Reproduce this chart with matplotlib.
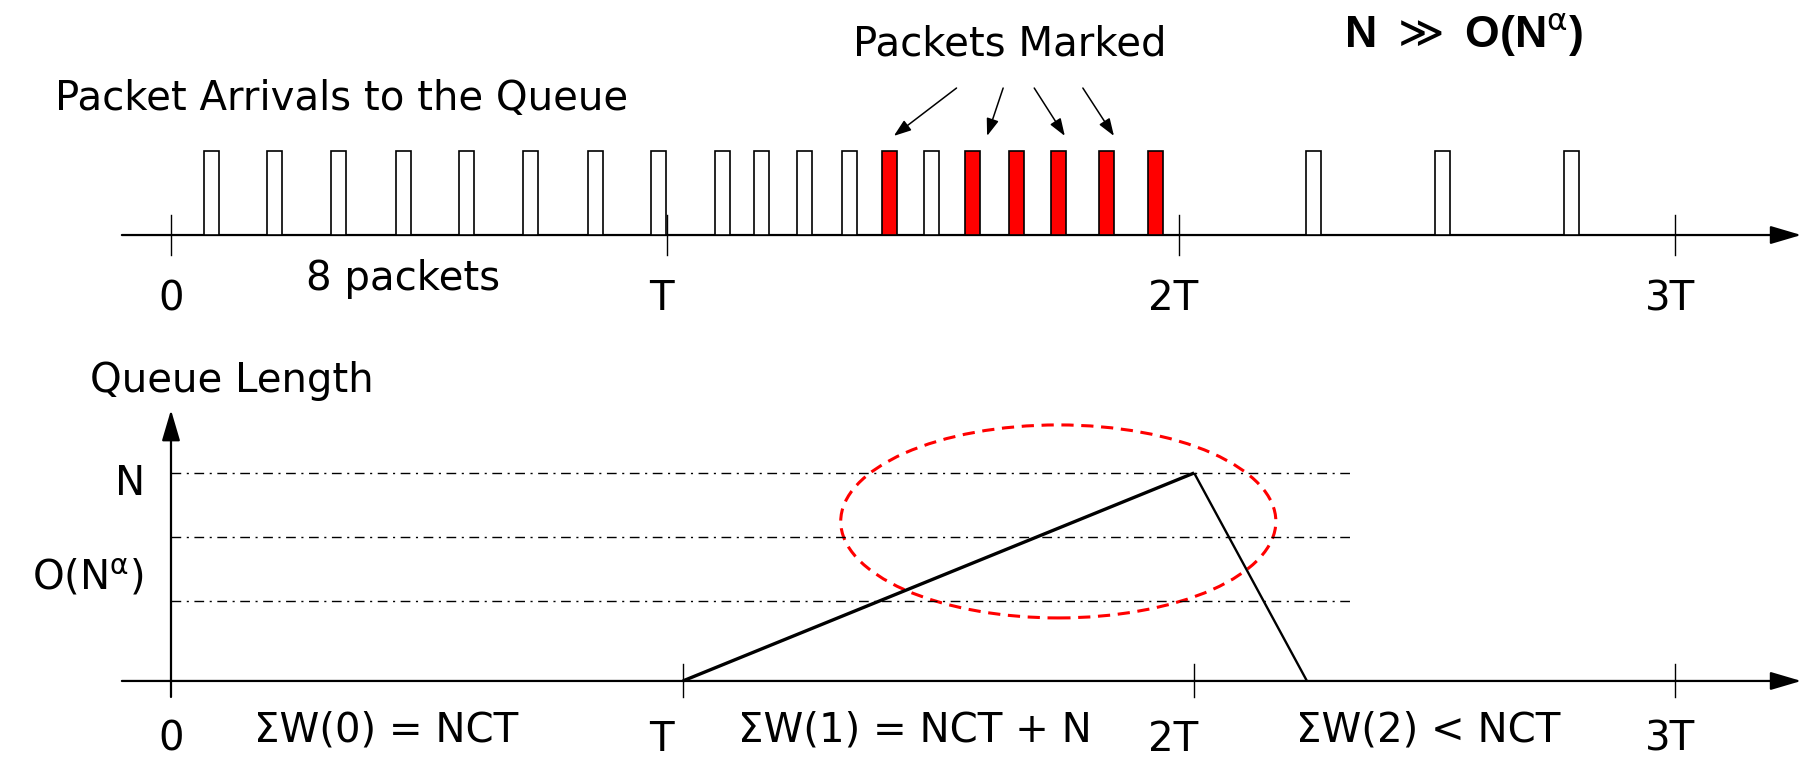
import matplotlib
matplotlib.use('Agg')
import matplotlib.pyplot as plt
from matplotlib.patches import Rectangle, Ellipse

plt.rcParams['font.family'] = ['DejaVu Sans']

# ---- data (x in units of T) ----
# top panel: packet arrival times, 1 = marked (red)
arrival_t = [0.080, 0.207, 0.335, 0.463, 0.590, 0.718, 0.846, 0.973,
             1.101, 1.177, 1.263, 1.354, 1.434, 1.518, 1.598, 1.686,
             1.771, 1.867, 1.963, 2.280, 2.537, 2.793]
marked = [0, 0, 0, 0, 0, 0, 0, 0,
          0, 0, 0, 0, 1, 0, 1, 1,
          1, 1, 1, 0, 0, 0]
arrow_tail_t = [1.567, 1.660, 1.722, 1.819]
arrow_tip_t = [1.442, 1.628, 1.783, 1.881]

tick_labels = ['0', 'T', '2T', '3T']
label_t = [0.0, 0.978, 2.0, 2.99]
top_ticks = [0.0, 0.989, 2.011, 3.0]
bottom_ticks = [0.0, 1.021, 2.041, 3.0]

# bottom panel: queue length (in units of N)
queue_t = [1.021, 2.041, 2.266]
queue_q = [0.0, 1.0, 0.0]
levels = [1.0, 0.692, 0.385]
level_end = 2.356
circle_center = (1.770, 0.767)
circle_size = (0.868, 0.928)

sum_labels = ['ΣW(0) = NCT', 'ΣW(1) = NCT + N', 'ΣW(2) < NCT']
sum_t = [0.430, 1.483, 2.507]

fig = plt.figure(figsize=(18.12, 7.6), dpi=100)
top = fig.add_axes([0, 0, 1, 1])
bot = fig.add_axes([0, 0, 1, 1])
for ax in (top, bot):
    ax.set_xlim(-0.3411, 3.2735)
    ax.axis('off')
    ax.patch.set_alpha(0)
top.set_ylim(-6.25, 2.798)
bot.set_ylim(-0.380, 3.274)

FS = 29
ax_arrow = dict(arrowstyle='-|>,head_length=0.95,head_width=0.28',
                mutation_scale=20, color='black', lw=1.6,
                shrinkA=0, shrinkB=0)

### top panel
top.annotate('', xy=(3.252, 0), xytext=(-0.098, 0), arrowprops=ax_arrow)
for t in top_ticks:
    top.plot([t, t], [-0.238, 0.238], color='black', lw=1.0)
for t, m in zip(arrival_t, marked):
    top.add_patch(Rectangle((t - 0.015, 0), 0.03, 1.0,
                            facecolor='red' if m else 'white',
                            edgecolor='black', lw=1.2, zorder=3))
for t0, t1 in zip(arrow_tail_t, arrow_tip_t):
    top.annotate('', xy=(t1, 1.18), xytext=(t0, 1.75),
                 arrowprops=dict(arrowstyle='-|>,head_length=0.7,head_width=0.25',
                                 mutation_scale=15, color='black', lw=1.1,
                                 shrinkA=0, shrinkB=0))
for s, t in zip(tick_labels, label_t):
    top.text(t, -0.893, s, fontsize=FS, ha='center', va='baseline')
top.text(-0.231, 1.488, 'Packet Arrivals to the Queue', fontsize=FS,
         ha='left', va='baseline')
top.text(1.674, 2.143, 'Packets Marked', fontsize=FS, ha='center', va='baseline')
top.text(2.340, 2.226, r'N $\gg$ O(N$^{\mathrm{\alpha}}$)', fontsize=32,
         family='Liberation Sans', fontweight='bold', ha='left', va='baseline')
top.text(0.463, -0.655, '8 packets', fontsize=FS, ha='center', va='baseline')

### bottom panel
bot.annotate('', xy=(3.252, 0), xytext=(-0.098, 0), arrowprops=ax_arrow)
bot.annotate('', xy=(0, 1.303), xytext=(0, -0.077), arrowprops=ax_arrow)
for t in bottom_ticks[1:]:
    bot.plot([t, t], [-0.077, 0.082], color='black', lw=1.0)
for q in levels:
    bot.plot([0, level_end], [q, q], color='black', lw=1.0,
             linestyle=(0, (7, 4, 1.5, 4)))
bot.plot(queue_t[:2], queue_q[:2], color='black', lw=2.4,
         solid_capstyle='butt')
bot.plot(queue_t[1:], queue_q[1:], color='black', lw=1.7,
         solid_capstyle='butt')
bot.add_patch(Ellipse(circle_center, circle_size[0], circle_size[1],
                      fill=False, edgecolor='red', lw=2.2,
                      linestyle=(0, (4, 2.5))))
for s, t in zip(tick_labels, label_t):
    bot.text(t, -0.335, s, fontsize=FS, ha='center', va='baseline')
for s, t in zip(sum_labels, sum_t):
    bot.text(t, -0.293, s, fontsize=FS, ha='center', va='baseline')
bot.text(-0.162, 1.389, 'Queue Length', fontsize=FS, ha='left', va='baseline')
bot.text(-0.082, 0.894, 'N', fontsize=FS, ha='center', va='baseline')
bot.text(-0.054, 0.4375, r'O(N$^{\mathrm{\alpha}}$)', fontsize=FS, ha='right',
         va='baseline')

fig.savefig('out.png', dpi=100, facecolor='white')
